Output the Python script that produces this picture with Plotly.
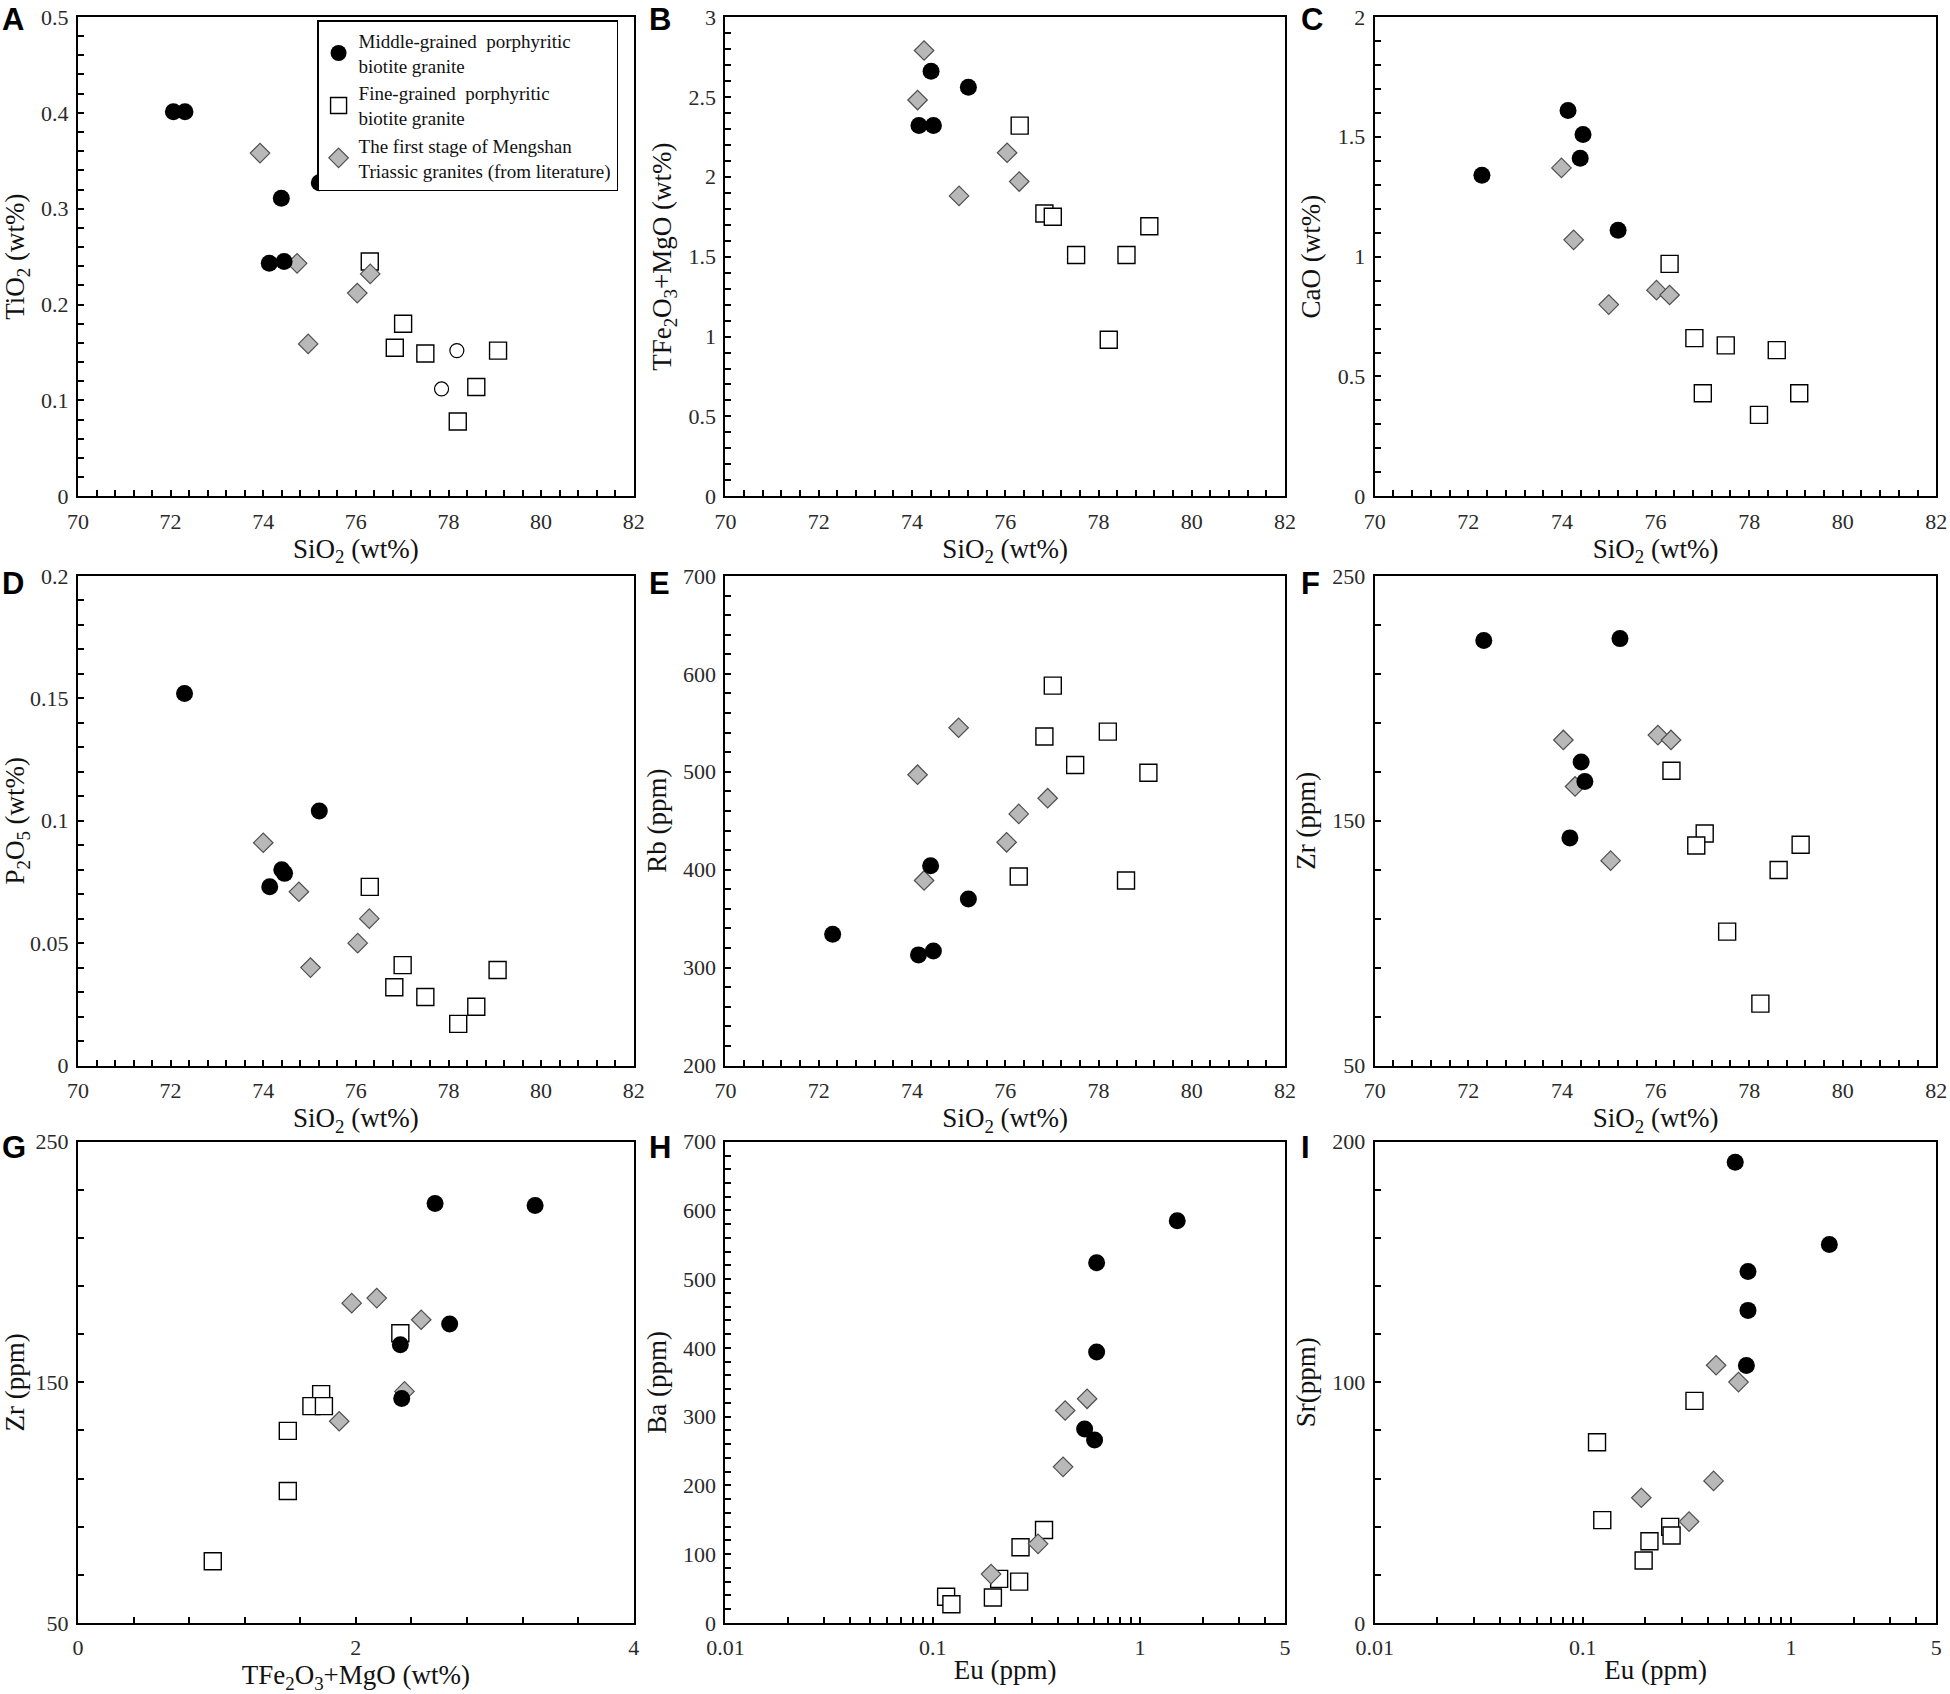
import math
import plotly.graph_objects as go

# ---------------- data ----------------
# A  TiO2 vs SiO2
a_mid_x = [72.06, 72.31, 74.13, 74.39, 74.45, 75.21]
a_mid_y = [0.401, 0.401, 0.243, 0.311, 0.245, 0.327]
a_fine_x = [76.30, 77.02, 76.84, 77.50, 79.07, 78.60, 78.20]
a_fine_y = [0.245, 0.180, 0.155, 0.149, 0.152, 0.114, 0.078]
a_lit_x = [73.93, 74.73, 76.31, 76.03, 74.97]
a_lit_y = [0.358, 0.243, 0.232, 0.212, 0.159]
a_open_x = [78.18, 77.85]
a_open_y = [0.152, 0.112]

# B  TFe2O3+MgO vs SiO2
b_mid_x = [74.41, 75.21, 74.15, 74.46]
b_mid_y = [2.66, 2.56, 2.32, 2.32]
b_fine_x = [76.31, 76.84, 77.02, 79.09, 77.52, 78.60, 78.22]
b_fine_y = [2.32, 1.77, 1.75, 1.69, 1.51, 1.51, 0.98]
b_lit_x = [74.26, 74.12, 76.04, 76.30, 75.01]
b_lit_y = [2.79, 2.48, 2.15, 1.97, 1.88]

# C  CaO vs SiO2
c_mid_x = [72.29, 74.13, 74.45, 74.39, 75.20]
c_mid_y = [1.34, 1.61, 1.51, 1.41, 1.11]
c_fine_x = [76.30, 76.83, 77.50, 78.59, 77.01, 79.07, 78.21]
c_fine_y = [0.97, 0.66, 0.63, 0.61, 0.43, 0.43, 0.34]
c_lit_x = [73.99, 74.25, 76.02, 76.30, 75.00]
c_lit_y = [1.37, 1.07, 0.86, 0.84, 0.80]

# D  P2O5 vs SiO2
d_mid_x = [72.30, 75.21, 74.40, 74.46, 74.14]
d_mid_y = [0.152, 0.104, 0.080, 0.0785, 0.073]
d_fine_x = [76.30, 77.01, 76.83, 77.50, 79.06, 78.60, 78.21]
d_fine_y = [0.073, 0.041, 0.032, 0.028, 0.039, 0.024, 0.017]
d_lit_x = [74.00, 74.77, 76.29, 76.04, 75.02]
d_lit_y = [0.091, 0.071, 0.060, 0.050, 0.040]

# E  Rb vs SiO2
e_mid_x = [72.30, 74.14, 74.46, 74.40, 75.21]
e_mid_y = [334, 313, 317, 404, 370]
e_fine_x = [77.02, 76.84, 78.20, 77.50, 79.07, 76.29, 78.59]
e_fine_y = [588, 536, 541, 507, 499, 393, 389]
e_lit_x = [74.12, 75.00, 76.91, 76.29, 76.03, 74.26]
e_lit_y = [497, 545, 473, 457, 428, 389]

# F  Zr vs SiO2
f_mid_x = [72.33, 75.24, 74.41, 74.49, 74.17]
f_mid_y = [223.6, 224.4, 174, 166, 143]
f_fine_x = [76.34, 77.05, 76.87, 79.10, 78.63, 77.53, 78.24]
f_fine_y = [170.4, 144.8, 139.9, 140.2, 129.9, 104.7, 75.3]
f_lit_x = [74.03, 76.05, 76.33, 74.28, 75.04]
f_lit_y = [183, 185, 183, 164, 133.7]

# G  Zr vs TFe2O3+MgO
g_mid_x = [2.57, 3.29, 2.675, 2.32, 2.33]
g_mid_y = [224.3, 223.5, 174.2, 165.6, 143.3]
g_fine_x = [2.32, 1.75, 1.68, 1.77, 1.51, 1.51, 0.97]
g_fine_y = [170.4, 145.1, 140.1, 140.1, 129.8, 104.8, 75.6]
g_lit_x = [1.97, 2.15, 2.47, 2.35, 1.88]
g_lit_y = [182.9, 185, 176, 146.2, 133.8]

# H  Ba vs Eu
h_mid_x = [1.51, 0.617, 0.617, 0.540, 0.603]
h_mid_y = [585, 524, 394, 282, 266]
h_fine_x = [0.344, 0.265, 0.261, 0.209, 0.195, 0.116, 0.123]
h_fine_y = [135, 110, 60, 64, 37, 38, 27]
h_lit_x = [0.555, 0.435, 0.425, 0.322, 0.191]
h_lit_y = [326, 309, 227, 115, 71]

# I  Sr vs Eu
i_mid_x = [0.540, 1.53, 0.622, 0.622, 0.611]
i_mid_y = [191.5, 157.3, 146.1, 129.9, 107]
i_fine_x = [0.344, 0.117, 0.124, 0.263, 0.267, 0.209, 0.196]
i_fine_y = [92.3, 75.1, 42.7, 39.9, 36.3, 33.9, 25.9]
i_lit_x = [0.437, 0.560, 0.425, 0.191, 0.324]
i_lit_y = [107.1, 100.1, 59, 52, 42.1]

legend_names = ["Middle-grained  porphyritic<br>biotite granite",
                "Fine-grained  porphyritic<br>biotite granite",
                "The first stage of Mengshan<br>Triassic granites (from literature)"]

panel_letters = ["A", "B", "C", "D", "E", "F", "G", "H", "I"]
log_tickvals = [0.01, 0.1, 1, 5]
log_ticklabels = ["0.01", "0.1", "1", "5"]

# ---------------- styles ----------------
SERIF = "Liberation Serif, Times New Roman, serif"
mid_marker = dict(symbol="circle", size=17, color="black", line=dict(width=0))
fine_marker = dict(symbol="square", size=17, color="white", line=dict(color="black", width=1.4))
lit_marker = dict(symbol="diamond", size=15, color="#b8b8b8", line=dict(color="#505050", width=1.2))
open_marker = dict(symbol="circle", size=14, color="white", line=dict(color="black", width=1.2))

col_dom = [[0.040, 0.325], [0.372, 0.659], [0.705, 0.993]]
row_dom = [[0.707, 0.990], [0.371, 0.660], [0.042, 0.326]]

fig = go.Figure()

panels = [
    (a_mid_x, a_mid_y, a_fine_x, a_fine_y, a_lit_x, a_lit_y),
    (b_mid_x, b_mid_y, b_fine_x, b_fine_y, b_lit_x, b_lit_y),
    (c_mid_x, c_mid_y, c_fine_x, c_fine_y, c_lit_x, c_lit_y),
    (d_mid_x, d_mid_y, d_fine_x, d_fine_y, d_lit_x, d_lit_y),
    (e_mid_x, e_mid_y, e_fine_x, e_fine_y, e_lit_x, e_lit_y),
    (f_mid_x, f_mid_y, f_fine_x, f_fine_y, f_lit_x, f_lit_y),
    (g_mid_x, g_mid_y, g_fine_x, g_fine_y, g_lit_x, g_lit_y),
    (h_mid_x, h_mid_y, h_fine_x, h_fine_y, h_lit_x, h_lit_y),
    (i_mid_x, i_mid_y, i_fine_x, i_fine_y, i_lit_x, i_lit_y),
]

for k, (mx, my, fx, fy, lx, ly) in enumerate(panels):
    ax = "" if k == 0 else str(k + 1)
    show = k == 0
    fig.add_trace(go.Scatter(x=fx, y=fy, mode="markers", marker=fine_marker,
                             name=legend_names[1], legendrank=2, showlegend=show,
                             xaxis="x" + ax, yaxis="y" + ax))
    fig.add_trace(go.Scatter(x=lx, y=ly, mode="markers", marker=lit_marker,
                             name=legend_names[2], legendrank=3, showlegend=show,
                             xaxis="x" + ax, yaxis="y" + ax))
    fig.add_trace(go.Scatter(x=mx, y=my, mode="markers", marker=mid_marker,
                             name=legend_names[0], legendrank=1, showlegend=show,
                             xaxis="x" + ax, yaxis="y" + ax))

# the two unlabelled open circles in panel A
fig.add_trace(go.Scatter(x=a_open_x, y=a_open_y, mode="markers", marker=open_marker,
                         showlegend=False, xaxis="x", yaxis="y"))

# ---------------- axes ----------------
sio2 = "SiO<sub>2</sub> (wt%)"
tfe = "TFe<sub>2</sub>O<sub>3</sub>+MgO (wt%)"
eu = "Eu (ppm)"
x_specs = [
    (sio2, [70, 82], 2, 0.4, 70), (sio2, [70, 82], 2, 0.4, 70), (sio2, [70, 82], 2, 0.4, 70),
    (sio2, [70, 82], 2, 0.4, 70), (sio2, [70, 82], 2, 0.4, 70), (sio2, [70, 82], 2, 0.4, 70),
    (tfe, [0, 4], 2, 0.4, 0), (eu, None, None, None, None), (eu, None, None, None, None),
]
y_specs = [
    ("TiO<sub>2</sub> (wt%)", [0, 0.5], 0.1, 0.02, 0),
    ("TFe<sub>2</sub>O<sub>3</sub>+MgO (wt%)", [0, 3], 0.5, 0.1, 0),
    ("CaO (wt%)", [0, 2], 0.5, 0.1, 0),
    ("P<sub>2</sub>O<sub>5</sub> (wt%)", [0, 0.2], 0.05, 0.01, 0),
    ("Rb (ppm)", [200, 700], 100, 20, 200),
    ("Zr (ppm)", [50, 250], 100, 20, 50),
    ("Zr (ppm)", [50, 250], 100, 20, 50),
    ("Ba (ppm)", [0, 700], 100, 20, 0),
    ("Sr(ppm)", [0, 200], 100, 20, 0),
]

tick_font = dict(family=SERIF, size=22, color="#2a2a2a")
title_font = dict(family=SERIF, size=27, color="#111111")
minor_ticks = dict(ticks="inside", ticklen=6, tickwidth=1.5, tickcolor="black")
common = dict(showline=True, linecolor="black", linewidth=2, mirror=True,
              ticks="inside", ticklen=6, tickwidth=1.5, tickcolor="black",
              showgrid=False, zeroline=False, tickfont=tick_font, automargin=False,
              ticklabeloverflow="allow")


def padded(rng):
    # nudge the top end so the last tick label is not dropped by rounding
    return [rng[0], rng[1] + (rng[1] - rng[0]) * 1e-6]


layout = {}
for k in range(9):
    r, c = divmod(k, 3)
    ax = "" if k == 0 else str(k + 1)
    xt, xr, xd, xm, x0 = x_specs[k]
    yt, yr, yd, ym, y0 = y_specs[k]
    xa = dict(common, domain=col_dom[c], anchor="y" + ax, ticklabelstandoff=4,
              title=dict(text=xt, font=title_font, standoff=1))
    if xr is None:
        xa.update(type="log", range=[-2, math.log10(5) + 1e-6],
                  tickmode="array", tickvals=log_tickvals, ticktext=log_ticklabels,
                  minor=dict(minor_ticks, dtick="D1"))
    else:
        xa.update(range=padded(xr), dtick=xd, tick0=x0,
                  minor=dict(minor_ticks, dtick=xm, tick0=x0))
    ya = dict(common, domain=row_dom[r], anchor="x" + ax, range=padded(yr),
              dtick=yd, tick0=y0, ticklabelstandoff=3,
              title=dict(text=yt, font=title_font, standoff=9),
              minor=dict(minor_ticks, dtick=ym, tick0=y0))
    layout["xaxis" + ax] = xa
    layout["yaxis" + ax] = ya

# panel letters
annotations = []
letter_x = [0.0, 0.332, 0.666]
letter_y = [1.0, 0.667, 0.334]
for k, letter in enumerate(panel_letters):
    r, c = divmod(k, 3)
    annotations.append(dict(text="<b>%s</b>" % letter, x=letter_x[c], y=letter_y[r],
                            xref="paper", yref="paper", xanchor="left", yanchor="top",
                            showarrow=False,
                            font=dict(family="Liberation Sans, Arial, sans-serif",
                                      size=31, color="black")))

fig.update_layout(
    width=1950, height=1694,
    margin=dict(l=0, r=0, t=0, b=0),
    paper_bgcolor="white", plot_bgcolor="white",
    showlegend=True,
    legend=dict(x=0.1626, y=0.988, xanchor="left", yanchor="top",
                bordercolor="black", borderwidth=1.5, bgcolor="white",
                font=dict(family=SERIF, size=19, color="#111111"),
                itemsizing="trace"),
    annotations=annotations,
    **layout,
)

# drop the default page margin so the figure sits at the window's corner
fig.write_html("out.html", config={"displayModeBar": False},
               post_script="document.body.style.margin='0px';")
